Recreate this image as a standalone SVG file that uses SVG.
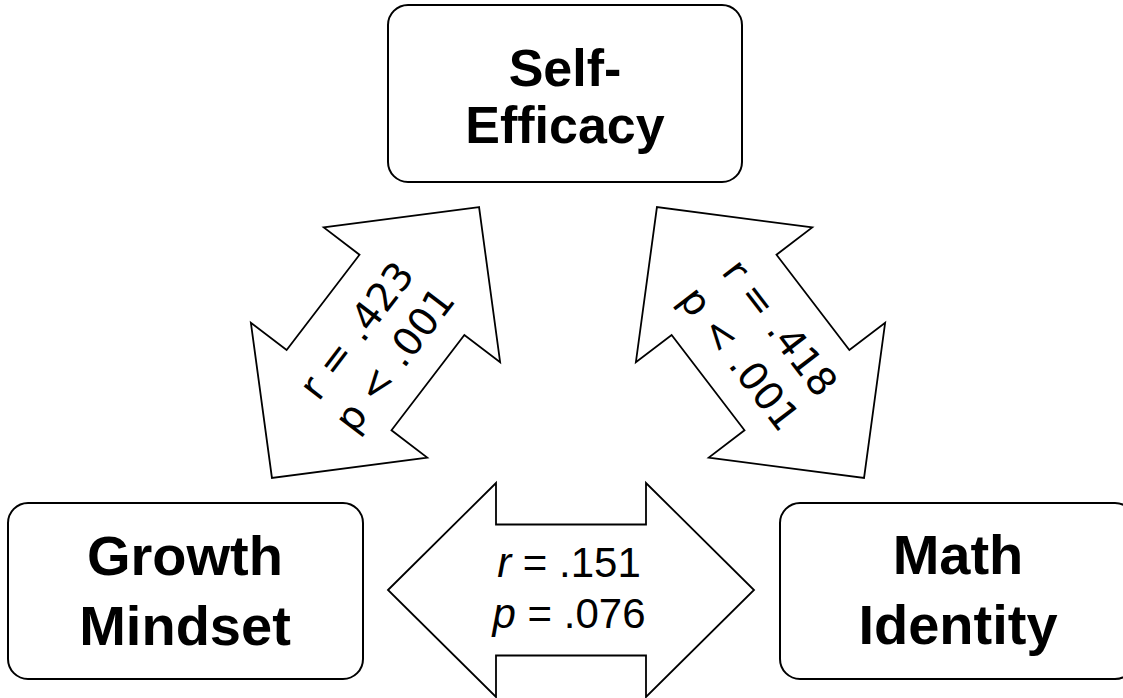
<svg xmlns="http://www.w3.org/2000/svg" width="1123" height="698" viewBox="0 0 1123 698">
<style>
.box{fill:#fff;stroke:#000;stroke-width:2}
.arr{fill:#fff;stroke:#000;stroke-width:1.8;stroke-linejoin:miter}
.lbl{font-family:"Liberation Sans",Arial,sans-serif;font-weight:bold;font-size:56px;fill:#000;text-anchor:middle}
.lbl2{font-size:52px}
.st{font-family:"Liberation Sans",Arial,sans-serif;font-size:42px;fill:#000;text-anchor:middle}
.sd{font-family:"DejaVu Sans",Verdana,sans-serif;font-size:39px;fill:#000;text-anchor:middle}
</style>
<defs>
<polygon id="darr" points="170.5,0 60,-111 60,-66 -60,-66 -60,-111 -170.5,0 -60,111 -60,66 60,66 60,111"/>
</defs>
<rect width="1123" height="698" fill="#fff"/>
<g id="connectors">
<g id="se-gm">
<use href="#darr" class="arr" transform="translate(375.5 342.5) rotate(-52.6)"/>
<g transform="translate(375.5 342.5) rotate(-52.6)">
<text class="sd" x="-2" y="-9">r = .423</text>
<text class="sd" x="-2" y="39">p &lt; .001</text>
</g>
</g>
<g id="se-mi">
<use href="#darr" class="arr" transform="translate(760.5 342.5) rotate(52.6)"/>
<g transform="translate(760.5 342.5) rotate(52.6)">
<text class="sd" x="0" y="-11">r = .418</text>
<text class="sd" x="0" y="40">p &lt; .001</text>
</g>
</g>
<g id="gm-mi">
<polygon class="arr" points="388,590 496,483 496,524.5 646,524.5 646,483 754,590 646,697 646,655.5 496,655.5 496,697"/>
<text class="st" x="569" y="577"><tspan font-style="italic">r</tspan> = .151</text>
<text class="st" x="569" y="628"><tspan font-style="italic">p</tspan> = .076</text>
</g>
</g>
<g id="self-efficacy">
<rect class="box" x="388" y="5" width="354" height="177" rx="20" ry="20"/>
<text class="lbl lbl2" x="565" y="86">Self-</text>
<text class="lbl lbl2" x="565" y="143">Efficacy</text>
</g>
<g id="growth-mindset">
<rect class="box" x="8" y="503" width="355" height="176" rx="20" ry="20"/>
<text class="lbl" x="185" y="575">Growth</text>
<text class="lbl" x="185" y="645">Mindset</text>
</g>
<g id="math-identity">
<rect class="box" x="780" y="503" width="355" height="176" rx="20" ry="20"/>
<text class="lbl" x="958" y="574">Math</text>
<text class="lbl" x="958" y="644">Identity</text>
</g>
</svg>
